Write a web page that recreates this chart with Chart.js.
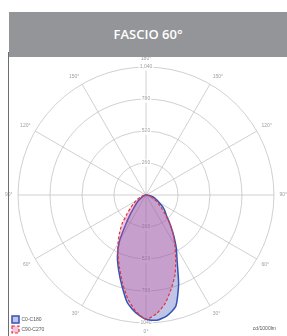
<!DOCTYPE html>
<html>
<head>
<meta charset="utf-8">
<script src="https://cdn.jsdelivr.net/npm/chart.js@4.4.1/dist/chart.umd.min.js"></script>
<style>
  html, body { margin: 0; padding: 0; background: #fff; }
  body { width: 287px; height: 336px; position: relative; overflow: hidden; font-family: "Open Sans", sans-serif; }
  #wrap { position: absolute; left: 0; top: 0; width: 287px; height: 336px; }
  #head { position: absolute; left: 9px; top: 12px; width: 278px; height: 45px; background: #939598; color: #fff;
          font-weight: 600; font-size: 13px; line-height: 45px; text-align: center; }
  #rule { position: absolute; left: 8px; top: 52px; width: 1px; height: 284px; background: #6d6e71; }
</style>
</head>
<body>
<div id="wrap"><canvas id="polar" width="287" height="336"></canvas></div>
<div id="head">FASCIO 60°</div>
<div id="rule"></div>
<script>
// gamma angles (deg from nadir), no light above 90°
var gamma = [0, 5, 10, 15, 20, 25, 30, 35, 40, 45, 50, 55, 60, 65, 70, 75, 80, 85, 90];
// cd/1000lm
var c0   = [1010, 1022, 995, 936, 775, 600, 490, 385, 300, 235, 200, 165, 125, 100, 78, 55, 35, 15, 0];
var c180 = [1010, 960, 885, 760, 650, 550, 430, 280, 190, 130, 95, 65, 42, 28, 16, 8, 4, 2, 0];
var c90  = [1010, 970, 895, 790, 690, 572, 470, 385, 300, 220, 165, 125, 95, 70, 48, 30, 15, 6, 0];
var c270 = [1010, 950, 855, 740, 630, 540, 455, 375, 300, 220, 165, 125, 95, 70, 48, 30, 15, 6, 0];
var rings = [260, 520, 780, 1040];
var unit = 'cd/1000lm';

// screen angles clockwise from the top (180°) in 5° steps
var angles = [];
for (var a = 0; a < 360; a += 5) angles.push(a);

function gammaAt(theta) {
  return theta <= 180 ? 180 - theta : theta - 180;
}

function plane(right, left) {
  return angles.map(function (theta) {
    var i = gamma.indexOf(gammaAt(theta));
    if (i < 0) return 0;
    return theta <= 180 ? right[i] : left[i];
  });
}

var gridColor = '#c4c4c4';
var txtColor = '#a0a0a0';

var extraLabels = {
  id: 'extraLabels',
  // legend sits in the bottom left corner, over the chart area
  afterLayout: function (chart) {
    var lg = chart.legend;
    var h = lg.bottom - lg.top;
    lg.left = 9;
    lg.right = 9 + lg.width;
    lg.bottom = chart.chartArea.bottom;
    lg.top = lg.bottom - h;
  },
  beforeDatasetsDraw: function (chart) {
    var r = chart.scales.r;
    var ctx = chart.ctx;
    ctx.save();
    ctx.font = '5px Arial';
    ctx.textAlign = 'center';
    ctx.textBaseline = 'middle';
    rings.forEach(function (v) {
      var p = r.getPointPositionForValue(36, v);
      var w = ctx.measureText(String(v)).width;
      ctx.fillStyle = '#fff';
      ctx.fillRect(p.x - w / 2 - 1, p.y - 4, w + 2, 8);
      ctx.fillStyle = txtColor;
      ctx.fillText(String(v), p.x, p.y);
    });
    ctx.restore();
  },
  afterDraw: function (chart) {
    var r = chart.scales.r;
    var ctx = chart.ctx;
    ctx.save();
    ctx.font = '5px Arial';
    ctx.fillStyle = '#555';
    ctx.textAlign = 'right';
    ctx.textBaseline = 'middle';
    ctx.fillText(unit, r.xCenter + r.drawingArea + 2, r.yCenter + r.drawingArea + 6);
    ctx.restore();
  }
};

new Chart(document.getElementById('polar'), {
  type: 'radar',
  data: {
    labels: angles.map(function (t) { return gammaAt(t) + '°'; }),
    datasets: [{
      label: 'C0-C180',
      data: plane(c0, c180),
      borderColor: '#3552b8',
      backgroundColor: 'rgba(70, 85, 185, 0.34)',
      borderWidth: 1.5,
      pointRadius: 0,
      tension: 0.2,
      fill: true,
      order: 1
    }, {
      label: 'C90-C270',
      data: plane(c90, c270),
      borderColor: '#e2343c',
      backgroundColor: 'rgba(215, 80, 150, 0.32)',
      borderWidth: 1.2,
      borderDash: [3, 2],
      pointRadius: 0,
      tension: 0.2,
      fill: true,
      order: 0
    }]
  },
  options: {
    responsive: false,
    animation: false,
    layout: { padding: { left: 5, right: -6, top: 54, bottom: -2 } },
    plugins: {
      legend: {
        position: 'chartArea',
        align: 'end',
        labels: {
          boxWidth: 7, boxHeight: 7, padding: 3, color: '#555', font: { size: 5 },
          sort: function (a, b) { return a.datasetIndex - b.datasetIndex; }
        }
      },
      tooltip: { enabled: false }
    },
    scales: {
      r: {
        min: 0,
        max: 1040,
        ticks: { stepSize: 260, color: txtColor, font: { size: 5 }, backdropColor: '#fff', backdropPadding: 1 },
        grid: { circular: true, color: gridColor, lineWidth: 0.8 },
        angleLines: {
          color: gridColor,
          lineWidth: function (c) { return gammaAt(angles[c.index]) % 30 === 0 ? 0.8 : 0; }
        },
        pointLabels: {
          color: txtColor,
          font: { size: 5 },
          padding: 2,
          callback: function (label, i) { return gammaAt(angles[i]) % 30 === 0 ? label : ''; }
        }
      }
    }
  },
  plugins: [extraLabels]
});
</script>
</body>
</html>
